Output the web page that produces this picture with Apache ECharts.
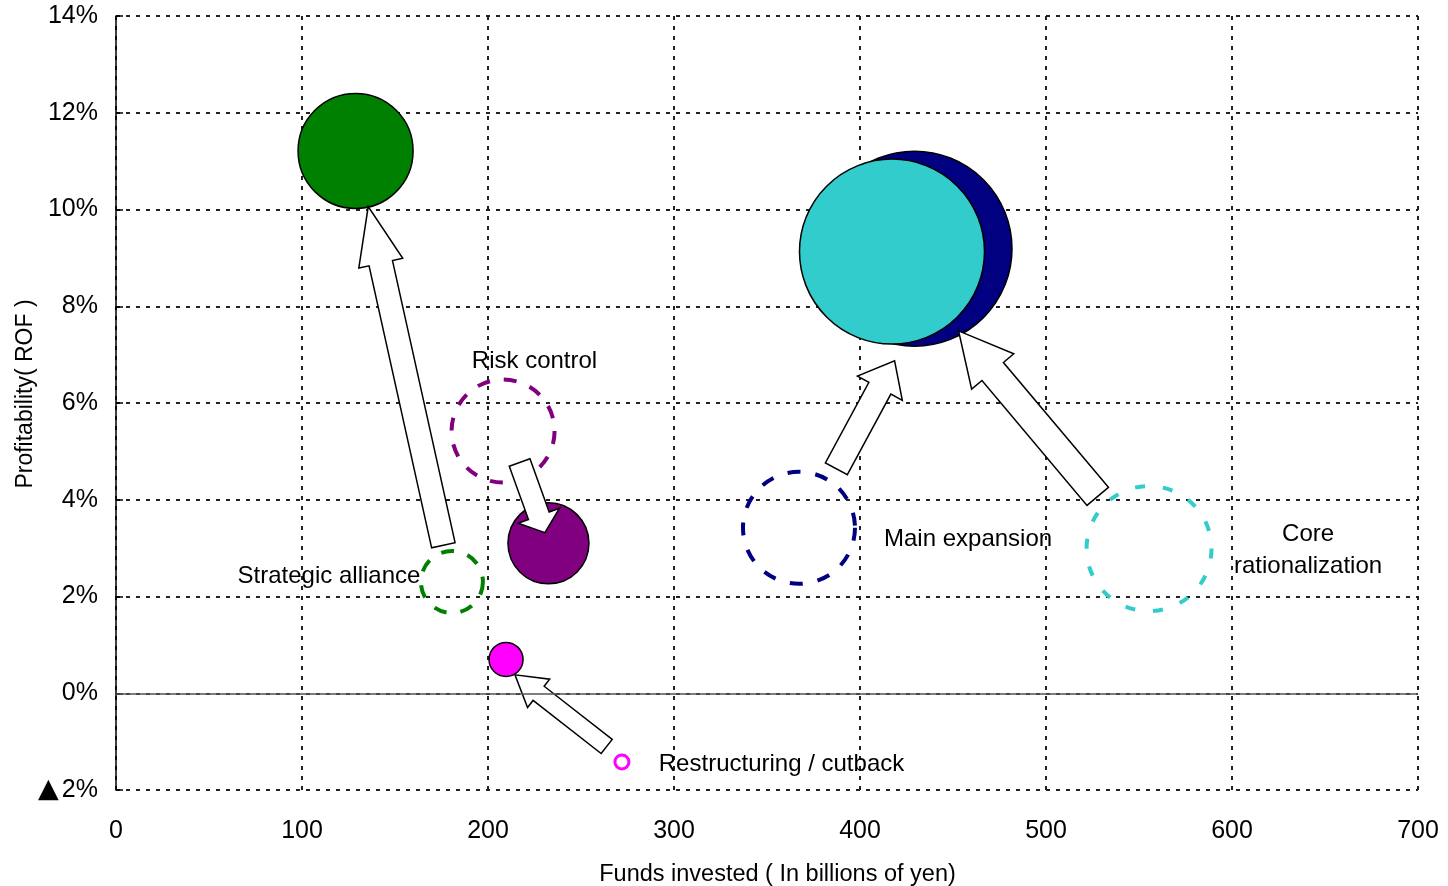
<!DOCTYPE html>
<html>
<head>
<meta charset="utf-8">
<script src="https://cdn.jsdelivr.net/npm/echarts@6/dist/echarts.min.js"></script>
<style>html,body{margin:0;padding:0;background:#fff}#c{width:1448px;height:886px}</style>
</head>
<body>
<div id="c"></div>
<script>
// ---- data ----
const xTicks = [0, 100, 200, 300, 400, 500, 600, 700];
const yTicks = [-2, 0, 2, 4, 6, 8, 10, 12, 14];
const yTickLabels = ['{tri|▲}2%', '0%', '2%', '4%', '6%', '8%', '10%', '12%', '14%'];

// [funds invested, ROF %, bubble scale]
const strategicBefore = [180.6, 2.30, 62];
const strategicAfter  = [128.8, 11.21, 115];
const riskBefore      = [208.1, 5.42, 103];
const riskAfter       = [232.5, 3.10, 81];
const restructBefore  = [272.0, -1.42, 14];
const restructAfter   = [209.7, 0.70, 34];
const mainBefore      = [367.2, 3.42, 112];
const mainAfter       = [429.3, 9.19, 195];
const coreBefore      = [555.4, 2.99, 125];
const coreAfter       = [417.2, 9.13, 185];

// arrows: [from x, from y, to x, to y]
const arrows = [
  [176.0, 3.06, 135.6, 10.06],
  [217.0, 4.77, 230.6, 3.32],
  [263.8, -1.10, 214.5, 0.38],
  [387.3, 4.64, 418.6, 6.87],
  [527.8, 4.07, 453.0, 7.49]
];

// text labels
const labelNames = ['Strategic alliance', 'Risk control', 'Restructuring / cutback', 'Main expansion', 'Core\nrationalization'];
const labelX = [114.5, 225.0, 357.8, 458.1, 640.9];
const labelY = [2.42, 6.87, -1.46, 3.19, 2.96];

// ---- styles ----
const arrowShaft = [24, 22, 18, 25, 28];
const arrowHead = [45, 44, 36, 51, 55];
const arrowHeadLen = [58, 18, 30, 31, 53];
const FONT = 'Liberation Sans, Arial, sans-serif';

const GREEN = '#008000', PURPLE = '#800080', MAGENTA = '#FF00FF', NAVY = '#000080', TEAL = '#33CCCC';

function solid(d, color) {
  return { value: d, itemStyle: { color: color, borderColor: '#000', borderWidth: 1.5, opacity: 1 } };
}
function dashed(d, color, dash) {
  return { value: d, itemStyle: { color: 'rgba(0,0,0,0)', borderColor: color, borderWidth: 4, borderType: dash, opacity: 1 } };
}

function renderArrow(params, api) {
  const i = params.dataIndex;
  const t = api.coord([api.value(0), api.value(1)]);
  const h = api.coord([api.value(2), api.value(3)]);
  const dx = h[0] - t[0], dy = h[1] - t[1];
  const len = Math.hypot(dx, dy);
  const ux = dx / len, uy = dy / len, px = -uy, py = ux;
  const sw = arrowShaft[i] / 2, hw = arrowHead[i] / 2, hl = arrowHeadLen[i];
  const b = [h[0] - ux * hl, h[1] - uy * hl];
  const pts = [
    [t[0] + px * sw, t[1] + py * sw],
    [b[0] + px * sw, b[1] + py * sw],
    [b[0] + px * hw, b[1] + py * hw],
    [h[0], h[1]],
    [b[0] - px * hw, b[1] - py * hw],
    [b[0] - px * sw, b[1] - py * sw],
    [t[0] - px * sw, t[1] - py * sw]
  ];
  return { type: 'polygon', shape: { points: pts }, style: { fill: '#fff', stroke: '#000', lineWidth: 1.5, lineJoin: 'miter' } };
}

const gridLine = { show: true, lineStyle: { color: '#222', width: 2, type: [4, 6] } };

const option = {
  animation: false,
  backgroundColor: '#fff',
  textStyle: { fontFamily: FONT },
  grid: { left: 116, right: 30, top: 16, bottom: 96, containLabel: false, outerBoundsMode: 'none' },
  xAxis: {
    type: 'value', min: xTicks[0], max: xTicks[xTicks.length - 1], interval: 100,
    axisLine: { show: false }, axisTick: { show: false },
    splitLine: gridLine,
    axisLabel: { margin: 29, fontSize: 25, color: '#000', fontFamily: FONT },
    name: 'Funds invested ( In billions of yen)', nameLocation: 'middle', nameGap: 73,
    nameTextStyle: { fontSize: 23.5, color: '#000', fontFamily: FONT, padding: [0, 0, 0, 21] }
  },
  yAxis: {
    type: 'value', min: yTicks[0], max: yTicks[yTicks.length - 1], interval: 2,
    axisLine: { show: true, onZero: false, lineStyle: { color: '#000', width: 1.5 } },
    axisTick: { show: true, inside: true, length: 7, lineStyle: { color: '#000', width: 1.5 } },
    splitLine: gridLine,
    axisLabel: {
      margin: 18, fontSize: 25, color: '#000', fontFamily: FONT,
      rich: { tri: { fontSize: 27, fontFamily: 'DejaVu Sans', color: '#000', padding: [0, 3, 0, 0] } },
      formatter: function (v) { const k = yTicks.indexOf(v); return k >= 0 ? yTickLabels[k] : ''; }
    },
    name: 'Profitability( ROF )', nameLocation: 'middle', nameGap: 79, nameMoveOverlap: false,
    nameTextStyle: { fontSize: 23, color: '#000', fontFamily: FONT, padding: [0, 0, 0, 18] }
  },
  series: [
    {
      type: 'scatter', silent: true, symbol: 'circle', z: 2,
      symbolSize: function (d) { return d[2]; },
      itemStyle: { opacity: 1 },
      data: [
        dashed(strategicBefore, GREEN, [13, 14]),
        dashed(riskBefore, PURPLE, [13, 14]),
        dashed(mainBefore, NAVY, [13, 15]),
        dashed(coreBefore, TEAL, [10, 18])
      ],
      markLine: {
        silent: true, symbol: 'none', label: { show: false },
        lineStyle: { color: '#555', width: 1.5, type: 'solid', opacity: 1 },
        data: [{ yAxis: 0 }]
      }
    },
    {
      type: 'scatter', silent: true, symbol: 'circle', z: 3,
      symbolSize: function (d) { return d[2]; },
      itemStyle: { opacity: 1 },
      data: [
        solid(strategicAfter, GREEN),
        solid(riskAfter, PURPLE),
        solid(restructAfter, MAGENTA),
        solid(mainAfter, NAVY),
        solid(coreAfter, TEAL),
        { value: restructBefore, itemStyle: { color: '#fff', borderColor: MAGENTA, borderWidth: 3, opacity: 1 } }
      ]
    },
    {
      type: 'custom', silent: true, z: 4,
      renderItem: renderArrow,
      encode: { x: [0, 2], y: [1, 3] },
      data: arrows
    },
    {
      type: 'scatter', silent: true, z: 5, symbolSize: 0,
      itemStyle: { opacity: 1 },
      label: {
        show: true, position: 'inside', color: '#000', fontSize: 24, fontFamily: FONT,
        lineHeight: 32, align: 'center', opacity: 1,
        formatter: function (p) { return p.name; }
      },
      data: labelNames.map(function (n, i) { return { name: n, value: [labelX[i], labelY[i]] }; })
    }
  ]
};

const chart = echarts.init(document.getElementById('c'), null, { renderer: 'canvas' });
chart.setOption(option);
</script>
</body>
</html>
